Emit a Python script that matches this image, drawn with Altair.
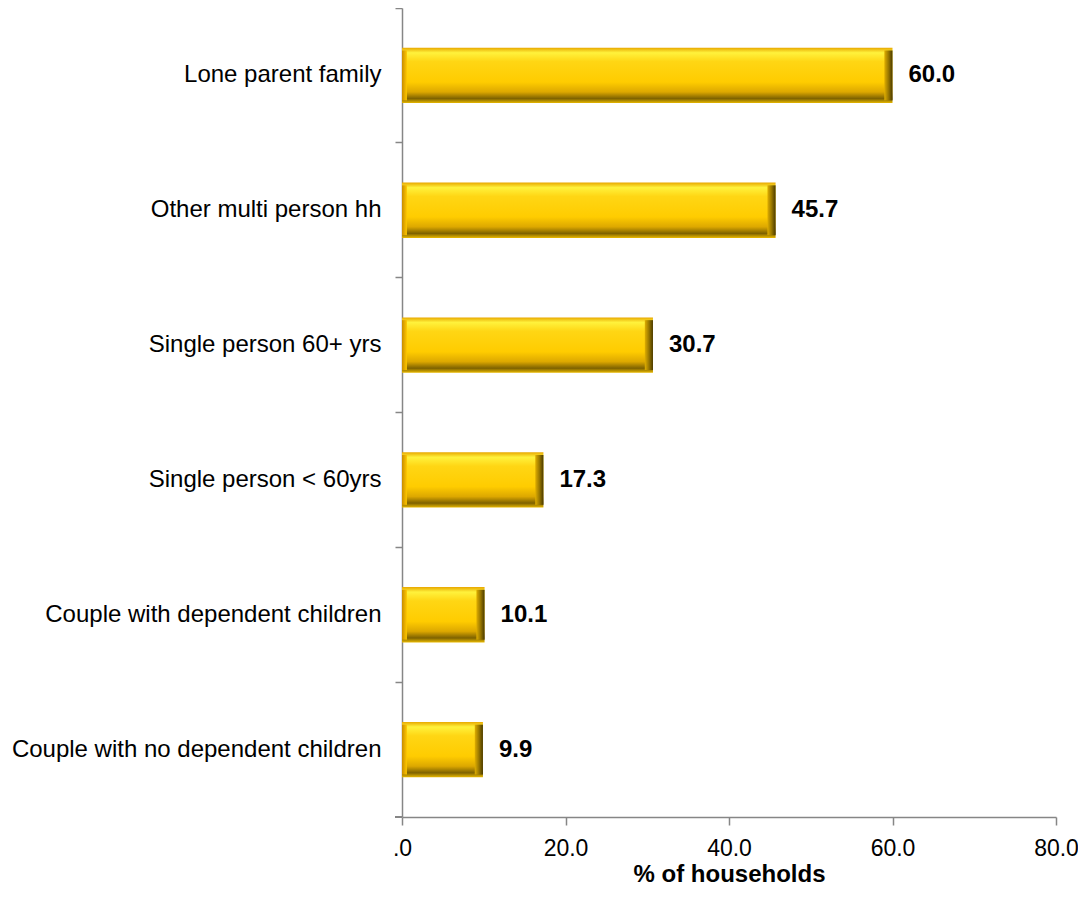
import altair as alt
import pandas as pd

categories = [
    "Lone parent family",
    "Other multi person hh\u00a0",
    "Single person 60+ yrs",
    "Single person < 60yrs",
    "Couple with dependent children",
    "Couple with no dependent children",
]
values = [60.0, 45.7, 30.7, 17.3, 10.1, 9.9]
x_ticks = [0, 20, 40, 60, 80]

df = pd.DataFrame({"category": categories, "value": values})

FONT = "Liberation Sans"
AXIS_GRAY = "#868686"

y_enc = alt.Y(
    "category:N",
    sort=categories,
    scale=alt.Scale(paddingInner=0, paddingOuter=0),
    axis=alt.Axis(
        title=None,
        bandPosition=0,
        labelFont=FONT,
        labelFontSize=24,
        labelColor="#000000",
        labelPadding=14,
        tickSize=7,
        tickColor=AXIS_GRAY,
        domainColor=AXIS_GRAY,
        domainWidth=1.5,
        tickWidth=1.5,
        labelLimit=420,
        grid=False,
    ),
)

x_scale = alt.Scale(domain=[0, 80], nice=False)
x_axis = alt.Axis(
    title="% of households",
    values=x_ticks,
    labelExpr="datum.value == 0 ? '.0' : format(datum.value, '.1f')",
    grid=False,
    labelFlush=False,
    labelOverlap=False,
    labelFont=FONT,
    labelFontSize=23,
    labelColor="#000000",
    labelPadding=12,
    tickSize=8,
    tickColor=AXIS_GRAY,
    domainColor=AXIS_GRAY,
    domainWidth=1.5,
    tickWidth=1.5,
    titleFont=FONT,
    titleFontSize=24,
    titleFontWeight="bold",
    titleColor="#000000",
    titlePadding=2,
)

main_grad = alt.Gradient(
    gradient="linear",
    x1=0, x2=0, y1=0, y2=1,
    stops=[
        alt.GradientStop(color="#E8A800", offset=0.0),
        alt.GradientStop(color="#FFF23C", offset=0.09),
        alt.GradientStop(color="#FFD614", offset=0.25),
        alt.GradientStop(color="#FFCC00", offset=0.62),
        alt.GradientStop(color="#DDA800", offset=0.8),
        alt.GradientStop(color="#7E6200", offset=0.92),
        alt.GradientStop(color="#E8B800", offset=1.0),
    ],
)

right_grad = alt.Gradient(
    gradient="linear",
    x1=0, x2=1, y1=0, y2=0,
    stops=[
        alt.GradientStop(color="#E0AE00", offset=0.0),
        alt.GradientStop(color="#9A7800", offset=0.5),
        alt.GradientStop(color="#4A3A00", offset=1.0),
    ],
)

left_grad = alt.Gradient(
    gradient="linear",
    x1=0, x2=1, y1=0, y2=0,
    stops=[
        alt.GradientStop(color="#C88C00", offset=0.0),
        alt.GradientStop(color="#FFC800", offset=1.0),
    ],
)

base = alt.Chart(df)

bars = base.mark_bar(height={"band": 0.41}, color=main_grad).encode(
    y=y_enc,
    x=alt.X("value:Q", scale=x_scale, axis=x_axis),
)

right_edge = (
    base.transform_calculate(edge="datum.value - 1.0")
    .mark_bar(height={"band": 0.37}, color=right_grad)
    .encode(y=alt.Y("category:N", sort=categories), x="edge:Q", x2="value:Q")
)

left_edge = (
    base.transform_calculate(ledge="0.6")
    .mark_bar(height={"band": 0.37}, color=left_grad)
    .encode(y=alt.Y("category:N", sort=categories), x=alt.X("ledge:Q"), x2=alt.datum(0))
)

labels = base.mark_text(
    align="left", baseline="middle", dx=16, font=FONT, fontSize=24,
    fontWeight="bold", color="#000000",
).encode(
    y=alt.Y("category:N", sort=categories),
    x="value:Q",
    text=alt.Text("value:Q", format=".1f"),
)

bottom_tick = alt.Chart(df).mark_rule(color=AXIS_GRAY, strokeWidth=1.5).encode(
    x=alt.value(-7), x2=alt.value(0), y=alt.value(809)
)

chart = (
    alt.layer(bars, right_edge, left_edge, labels, bottom_tick)
    .properties(
        width=654,
        height=809,
        autosize=alt.AutoSizeParams(type="none"),
        padding={"left": 394, "top": 0, "right": 22, "bottom": 72},
        view=alt.ViewBackground(stroke="transparent", strokeWidth=0, fill="white"),
    )
    .configure_view(stroke="transparent", strokeWidth=0)
    .configure_axis(grid=False)
    .configure(background="#FFFFFF")
)

chart.save("out.html", embed_options={"renderer": "svg", "actions": False})
